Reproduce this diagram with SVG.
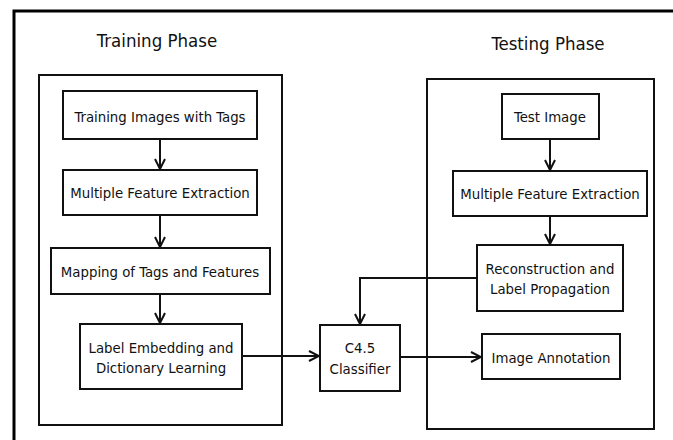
<svg xmlns="http://www.w3.org/2000/svg" width="673" height="440" viewBox="0 0 673 440">
<style>
.box{fill:#fff;stroke:#111;stroke-width:2}
.frame{fill:none;stroke:#111;stroke-width:2}
.t{font-family:"DejaVu Sans Condensed","DejaVu Sans",sans-serif;font-size:14.8px;fill:#111;text-anchor:middle}
.h{font-family:"DejaVu Sans Condensed","DejaVu Sans",sans-serif;font-size:18.5px;fill:#111;text-anchor:middle}
.c{fill:none;stroke:#111;stroke-width:2}
</style>
<defs>
<marker id="arr" viewBox="0 0 12 12" refX="11" refY="6" markerWidth="12" markerHeight="12" markerUnits="userSpaceOnUse" orient="auto">
<polyline points="1,1 11,6 1,11" fill="none" stroke="#111" stroke-width="2"/>
</marker>
</defs>
<rect width="673" height="440" fill="#fff"/>
<path d="M14,445 V11 H680" fill="none" stroke="#000" stroke-width="3"/>
<g id="training-phase">
<text class="h" x="157" y="47">Training Phase</text>
<rect class="frame" x="39" y="75" width="243" height="350"/>
</g>
<g id="testing-phase">
<text class="h" x="548" y="50">Testing Phase</text>
<rect class="frame" x="427" y="79" width="227" height="350"/>
</g>
<g id="n1"><rect class="box" x="63" y="91" width="194" height="48"/><text class="t" x="160" y="122">Training Images with Tags</text></g>
<g id="n2"><rect class="box" x="63" y="170" width="194" height="45"/><text class="t" x="160" y="198">Multiple Feature Extraction</text></g>
<g id="n3"><rect class="box" x="51" y="248" width="219" height="46"/><text class="t" x="160" y="277">Mapping of Tags and Features</text></g>
<g id="n4"><rect class="box" x="80" y="324" width="162" height="65"/><text class="t" x="161" y="353">Label Embedding and</text><text class="t" x="161" y="373">Dictionary Learning</text></g>
<g id="n5"><rect class="box" x="320" y="325" width="80" height="66"/><text class="t" x="360" y="353">C4.5</text><text class="t" x="360" y="374">Classifier</text></g>
<g id="n6"><rect class="box" x="502" y="94" width="97" height="45"/><text class="t" x="550" y="122">Test Image</text></g>
<g id="n7"><rect class="box" x="453" y="171" width="194" height="45"/><text class="t" x="550" y="199">Multiple Feature Extraction</text></g>
<g id="n8"><rect class="box" x="477" y="245" width="146" height="66"/><text class="t" x="550" y="274">Reconstruction and</text><text class="t" x="550" y="294">Label Propagation</text></g>
<g id="n9"><rect class="box" x="482" y="334" width="138" height="45"/><text class="t" x="551" y="363">Image Annotation</text></g>
<g id="connectors">
<line class="c" x1="160" y1="139" x2="160" y2="169" marker-end="url(#arr)"/>
<line class="c" x1="160" y1="215" x2="160" y2="247" marker-end="url(#arr)"/>
<line class="c" x1="160" y1="294" x2="160" y2="323" marker-end="url(#arr)"/>
<line class="c" x1="242" y1="356" x2="319" y2="356" marker-end="url(#arr)"/>
<line class="c" x1="550" y1="139" x2="550" y2="170" marker-end="url(#arr)"/>
<line class="c" x1="550" y1="216" x2="550" y2="244" marker-end="url(#arr)"/>
<polyline class="c" points="477,278 360,278 360,324" marker-end="url(#arr)"/>
<line class="c" x1="400" y1="357" x2="481" y2="357" marker-end="url(#arr)"/>
</g>
</svg>
